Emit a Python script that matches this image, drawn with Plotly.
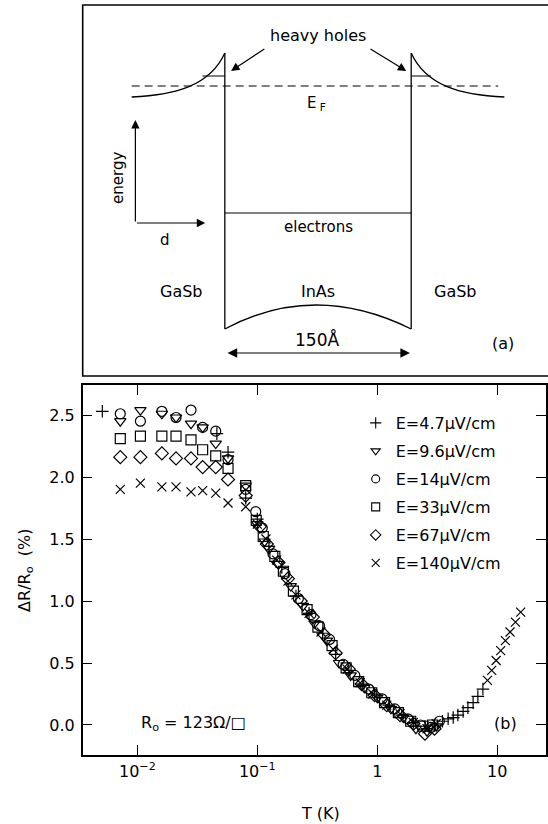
import plotly.graph_objects as go

W, H = 548, 824
FONT = "DejaVu Sans"

# ---------------- panel (b) data ----------------
series_names = ["E=4.7μV/cm", "E=9.6μV/cm", "E=14μV/cm", "E=33μV/cm", "E=67μV/cm", "E=140μV/cm"]
series_symbols = ["cross-thin", "triangle-down-open", "circle-open", "square-open", "diamond-open", "x-thin"]

T_e47 = [0.0051, 0.046, 0.057, 0.080, 0.100, 0.125, 0.16, 0.21, 0.27, 0.35, 0.45, 0.58, 0.75, 0.95,
         1.25, 1.6, 2.0, 2.5, 3.0, 3.5, 3.9, 4.3, 4.7, 5.2, 5.7, 6.3, 6.9, 7.6]
R_e47 = [2.53, 2.35, 2.20, 1.83, 1.66, 1.44, 1.27, 1.04, 0.90, 0.74, 0.57, 0.44, 0.33, 0.25,
         0.16, 0.08, 0.02, -0.01, 0.00, 0.03, 0.05, 0.06, 0.08, 0.11, 0.14, 0.18, 0.23, 0.29]

T_e96 = [0.0072, 0.0106, 0.016, 0.021, 0.028, 0.035, 0.045, 0.057, 0.080, 0.100, 0.115, 0.125, 0.15,
         0.19, 0.24, 0.30, 0.38, 0.48, 0.60, 0.78, 1.0, 1.3, 1.65, 2.1, 2.6, 3.1]
R_e96 = [2.45, 2.54, 2.51, 2.48, 2.43, 2.40, 2.27, 2.15, 1.93, 1.62, 1.48, 1.42, 1.30,
         1.12, 0.96, 0.82, 0.68, 0.50, 0.40, 0.30, 0.22, 0.13, 0.06, -0.03, -0.05, -0.01]

T_e14 = [0.0072, 0.0106, 0.016, 0.021, 0.028, 0.035, 0.045, 0.057, 0.080, 0.097, 0.110, 0.135, 0.17,
         0.22, 0.28, 0.33, 0.40, 0.52, 0.65, 0.85, 1.1, 1.4, 1.8, 2.3, 2.8, 3.3]
R_e14 = [2.51, 2.45, 2.53, 2.48, 2.54, 2.40, 2.37, 2.14, 1.90, 1.72, 1.59, 1.38, 1.22,
         1.02, 0.89, 0.80, 0.69, 0.49, 0.40, 0.29, 0.21, 0.13, 0.05, 0.00, -0.02, 0.03]

T_e33 = [0.0072, 0.0106, 0.016, 0.021, 0.028, 0.035, 0.045, 0.057, 0.080, 0.098, 0.112, 0.140, 0.165,
         0.20, 0.26, 0.32, 0.42, 0.55, 0.70, 0.90, 1.15, 1.5, 1.9, 2.4, 2.9]
R_e33 = [2.31, 2.33, 2.33, 2.33, 2.30, 2.22, 2.17, 2.07, 1.93, 1.65, 1.52, 1.36, 1.24,
         1.08, 0.93, 0.79, 0.64, 0.46, 0.35, 0.26, 0.18, 0.10, 0.03, -0.01, 0.00]

T_e67 = [0.0072, 0.0106, 0.016, 0.021, 0.028, 0.035, 0.045, 0.057, 0.080, 0.105, 0.120, 0.150, 0.18,
         0.23, 0.29, 0.36, 0.45, 0.58, 0.74, 0.95, 1.2, 1.55, 2.0, 2.5, 3.0]
R_e67 = [2.16, 2.16, 2.19, 2.15, 2.15, 2.08, 2.08, 1.98, 1.85, 1.60, 1.46, 1.31, 1.18,
         1.00, 0.87, 0.73, 0.58, 0.45, 0.33, 0.24, 0.16, 0.08, 0.01, -0.07, -0.03]

T_e140 = [0.0072, 0.0106, 0.016, 0.021, 0.028, 0.035, 0.045, 0.057, 0.080, 0.100, 0.118, 0.145, 0.18,
          0.21, 0.27, 0.34, 0.43, 0.56, 0.72, 0.92, 1.2, 1.55, 2.0, 2.6, 3.1,
          8.3, 9.0, 9.8, 10.7, 11.7, 12.8, 14.2, 15.7]
R_e140 = [1.90, 1.95, 1.92, 1.92, 1.88, 1.89, 1.87, 1.79, 1.76, 1.62, 1.50, 1.33, 1.16,
          1.05, 0.90, 0.75, 0.61, 0.45, 0.34, 0.25, 0.16, 0.09, 0.02, -0.03, 0.01,
          0.36, 0.44, 0.52, 0.60, 0.68, 0.75, 0.83, 0.91]

series_T = [T_e47, T_e96, T_e14, T_e33, T_e67, T_e140]
series_R = [R_e47, R_e96, R_e14, R_e33, R_e67, R_e140]

x_tickvals = [0.01, 0.1, 1, 10]
x_ticktext = ["10<sup>−2</sup>", "10<sup>−1</sup>", "1", "10"]
y_tickvals = [0.0, 0.5, 1.0, 1.5, 2.0, 2.5]

# ---------------- panel (a) schematic (x in Å, y in arbitrary energy units, E_F = 0) ----------------
well_x = [0, 150]
wall_top, wall_bottom = 33, -243
electron_level = -127
hole_level = 10
fermi_x = [-75, 220]

fig = go.Figure()

legend_ids = ["legend", "legend2", "legend3", "legend4", "legend5", "legend6"]

for name, sym, T, R in zip(series_names, series_symbols, series_T, series_R):
    fig.add_trace(go.Scatter(
        x=T, y=R, mode="markers", showlegend=False, xaxis="x", yaxis="y",
        marker=dict(symbol=sym, size=10 if "open" in sym else 9, color="black",
                    line=dict(color="black", width=1.2)),
    ))
for lid, name, sym in zip(legend_ids, series_names, series_symbols):
    fig.add_trace(go.Scatter(
        x=[None], y=[None], mode="markers", name=name, xaxis="x", yaxis="y", legend=lid,
        marker=dict(symbol=sym, size=8, color="black", line=dict(color="black", width=1.1)),
    ))

def seg(xs, ys, width=1.2, dash=None):
    fig.add_trace(go.Scatter(x=xs, y=ys, mode="lines",
                             line=dict(color="black", width=width, dash=dash),
                             xaxis="x2", yaxis="y2", showlegend=False, hoverinfo="skip"))

seg([well_x[0], well_x[0]], [wall_top, wall_bottom], 1.3)
seg([well_x[1], well_x[1]], [wall_top, wall_bottom], 1.3)
seg(well_x, [electron_level, electron_level])
seg([-18, 0], [hole_level, hole_level])
seg([150, 166], [hole_level, hole_level])
seg(fermi_x, [0, 0], 1.2, "8px,5px")

shapes = []
shapes.append(dict(type="path", xref="x2", yref="y2",
                   path="M -75,-11 C -40,-9 -12,0 0,33", line=dict(color="black", width=1.3)))
shapes.append(dict(type="path", xref="x2", yref="y2",
                   path="M 150,33 C 162,0 190,-9 225,-11", line=dict(color="black", width=1.3)))
shapes.append(dict(type="path", xref="x2", yref="y2",
                   path="M 0,-243 Q 72,-195 150,-243", line=dict(color="black", width=1.3)))
shapes.append(dict(type="rect", xref="paper", yref="paper", x0=83 / W, x1=1.02,
                   y0=1 - 376 / H, y1=1 - 5 / H, line=dict(color="black", width=1.6)))

ann = []
def txt(x, y, s, size=16, **kw):
    ann.append(dict(x=x, y=y, xref="x2", yref="y2", text=s, showarrow=False,
                    xanchor="center", yanchor="middle",
                    font=dict(family=FONT, size=size, color="black"), **kw))

def arrow(x, y, ax, ay, **kw):
    d = dict(x=x, y=y, ax=ax, ay=ay, xref="x2", yref="y2", axref="x2", ayref="y2", text="",
             showarrow=True, arrowhead=2, arrowsize=1.4, arrowwidth=1.2, arrowcolor="black")
    d.update(kw)
    ann.append(d)

txt(75, 51, "heavy holes", 16)
txt(74, -17, "E<sub> F</sub>", 15)
txt(-86, -92, "energy", 15, textangle=-90)
txt(-48.5, -154, "d", 15)
txt(75, -141, "electrons", 15)
txt(-35, -205, "GaSb", 16)
txt(75, -205, "InAs", 16)
txt(186, -205, "GaSb", 16)
txt(74, -253, "150Å", 17)
txt(224, -257, "(a)", 16)

arrow(5, 15, 33, 38)
arrow(146, 15, 116, 38)
arrow(-72, -34, -72, -137)
arrow(-15.8, -137, -72, -137)
arrow(149, -267, 1, -267, arrowside="end+start", arrowsize=1.6)

def ptxt(xp, yp, s, size=16, **kw):
    ann.append(dict(x=xp / W, y=1 - yp / H, xref="paper", yref="paper", text=s, showarrow=False,
                    xanchor="center", yanchor="middle",
                    font=dict(family=FONT, size=size, color="black"), **kw))

ptxt(194, 723, "R<sub>o</sub> = 123Ω/□", 16)
ptxt(507, 723, "(b)", 16)
ptxt(322, 813, "T (K)", 16)
ptxt(25, 570, "ΔR/R<sub>o</sub>  (%)", 16, textangle=-90)

axis_common = dict(showline=True, linecolor="black", linewidth=1.6, mirror="ticks",
                   ticks="inside", ticklen=10, tickwidth=1.2, tickcolor="black",
                   showgrid=False, zeroline=False,
                   tickfont=dict(family=FONT, size=16, color="black"))

legend_rows = [423, 451, 479, 507, 535, 563]
legend_layout = {}
for lid, row in zip(legend_ids, legend_rows):
    legend_layout[lid] = dict(x=357 / W, y=1 - row / H, xanchor="left", yanchor="middle",
                              bgcolor="rgba(0,0,0,0)", borderwidth=0,
                              font=dict(family=FONT, size=16, color="black"), itemwidth=30)

fig.update_layout(
    width=W, height=H, autosize=False,
    margin=dict(l=0, r=0, t=0, b=0),
    paper_bgcolor="white", plot_bgcolor="white",
    xaxis=dict(type="log", range=[-2.456, 1.407], domain=[83 / W, 1],
               tickvals=x_tickvals, ticktext=x_ticktext, anchor="y", ticklabelstandoff=1, **axis_common),
    yaxis=dict(range=[-0.242, 2.742], domain=[1 - 755 / H, 1 - 385 / H],
               tickvals=y_tickvals, tickformat=".1f", anchor="x", ticklabelstandoff=3, **axis_common),
    xaxis2=dict(range=[-114.4, 258.5], domain=[83 / W, 1], visible=False, anchor="y2"),
    yaxis2=dict(range=[-290, 81], domain=[1 - 376 / H, 1 - 5 / H], visible=False, anchor="x2"),
    shapes=shapes, annotations=ann,
    **legend_layout,
)

fig.write_html("out.html", config={"displayModeBar": False},
               post_script="document.body.style.margin='0';document.body.style.overflow='hidden';")
